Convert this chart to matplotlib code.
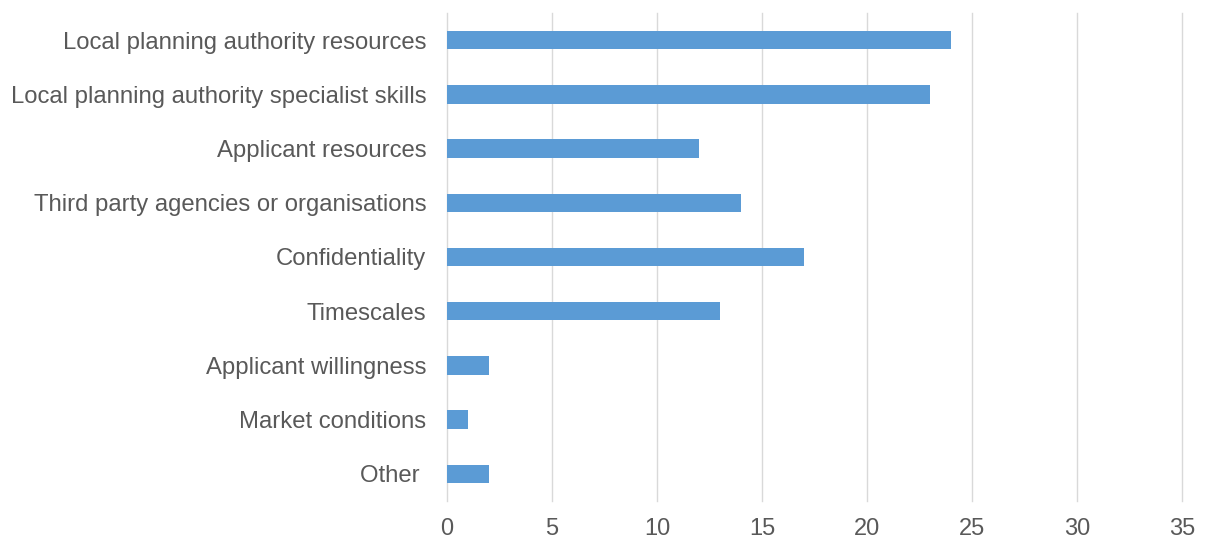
import matplotlib
matplotlib.use('agg')
from matplotlib import pyplot

categories = ['Local planning authority resources',
              'Local planning authority specialist skills',
              'Applicant resources',
              'Third party agencies or organisations',
              'Confidentiality',
              'Timescales',
              'Applicant willingness',
              'Market conditions',
              'Other ']
counts = [24, 23, 12, 14, 17, 13, 2, 1, 2]
ticks = [0, 5, 10, 15, 20, 25, 30, 35]

pyplot.rcParams['font.family'] = ['Liberation Sans', 'DejaVu Sans']
text_colour = '#595959'

figura = pyplot.figure(figsize=(12.08, 5.41), dpi=100)
axes = figura.add_axes([0.370, 0.074, 0.6085, 0.902])

positions = range(len(categories))
axes.barh(positions, counts, height=0.34, color='#5B9BD5', zorder=3)
axes.set_yticks(list(positions))
axes.set_yticklabels(categories, fontsize=17.2, color=text_colour)
axes.set_ylim(len(categories) - 0.5, -0.5)

axes.set_xlim(0, 35)
axes.set_xticks(ticks)
axes.set_xticklabels([str(t) for t in ticks], fontsize=17, color=text_colour)
axes.grid(axis='x', color='#D9D9D9', linewidth=1, zorder=0)
# keep the last gridline (at 35) from being cut in half by the axes edge
for line in axes.get_xgridlines():
    line.set_clip_on(False)
axes.tick_params(axis='both', length=0)
axes.tick_params(axis='y', pad=15)
axes.tick_params(axis='x', pad=12)
for side in axes.spines.values():
    side.set_visible(False)

pyplot.savefig('out.png')
